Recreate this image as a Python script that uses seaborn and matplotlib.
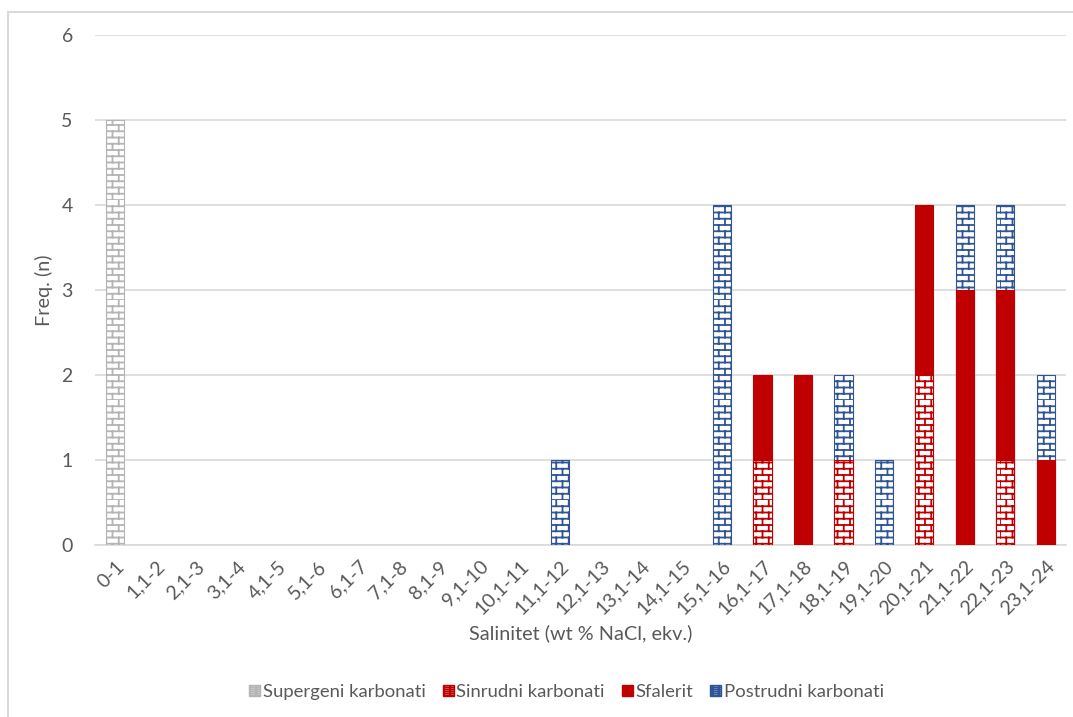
import warnings
import numpy as np
import pandas as pd
import matplotlib.pyplot as plt
import matplotlib.hatch as mhatch
from matplotlib.patches import Patch, Rectangle
from matplotlib.path import Path
import seaborn as sns

warnings.filterwarnings("ignore")

# --- podaci ---
kategorije = ["0-1", "1,1-2", "2,1-3", "3,1-4", "4,1-5", "5,1-6", "6,1-7", "7,1-8",
              "8,1-9", "9,1-10", "10,1-11", "11,1-12", "12,1-13", "13,1-14", "14,1-15",
              "15,1-16", "16,1-17", "17,1-18", "18,1-19", "19,1-20", "20,1-21",
              "21,1-22", "22,1-23", "23,1-24"]
supergeni = [5, 0, 0, 0, 0, 0, 0, 0, 0, 0, 0, 0, 0, 0, 0, 0, 0, 0, 0, 0, 0, 0, 0, 0]
sinrudni = [0, 0, 0, 0, 0, 0, 0, 0, 0, 0, 0, 0, 0, 0, 0, 0, 1, 0, 1, 0, 2, 0, 1, 0]
sfalerit = [0, 0, 0, 0, 0, 0, 0, 0, 0, 0, 0, 0, 0, 0, 0, 0, 1, 2, 0, 0, 2, 3, 2, 1]
postrudni = [0, 0, 0, 0, 0, 0, 0, 0, 0, 0, 0, 1, 0, 0, 0, 4, 0, 0, 1, 1, 0, 1, 1, 1]

serije = ["Supergeni karbonati", "Sinrudni karbonati", "Sfalerit", "Postrudni karbonati"]
vrijednosti = [supergeni, sinrudni, sfalerit, postrudni]
boje = ["#B4B4B4", "#C00000", "#C00000", "#2F5597"]
uzorak = ["b", "b", None, "b"]


# --- "cigla" srafura kao u Excelu ---
class BrickHatch(mhatch.HatchPatternBase):
    def __init__(self, hatch, density):
        n = hatch.count("b")
        self.rows = 16 * n if n else 0
        self.per_row = 8
        self.num_vertices = self.rows * 2 * (1 + self.per_row) if n else 0

    def set_vertices_and_codes(self, vertices, codes):
        k = 0
        h = 1.0 / self.rows
        w = 1.0 / self.per_row
        for r in range(self.rows):
            y0 = r * h
            vertices[k] = (0, y0); vertices[k + 1] = (1, y0)
            codes[k] = Path.MOVETO; codes[k + 1] = Path.LINETO
            k += 2
            off = 0.0 if r % 2 == 0 else w / 2
            for i in range(self.per_row):
                x = off + i * w
                vertices[k] = (x, y0); vertices[k + 1] = (x, y0 + h)
                codes[k] = Path.MOVETO; codes[k + 1] = Path.LINETO
                k += 2


mhatch._hatch_types.append(BrickHatch)

sns.set_style("white")
plt.rcParams["font.family"] = ["Lato", "DejaVu Sans"]
plt.rcParams["hatch.linewidth"] = 1.3

fig = plt.figure(figsize=(10.73, 7.17), dpi=100)
ax = fig.add_axes([95 / 1073, 1 - 545 / 717, 971 / 1073, 510 / 717])

# okvir grafikona
fig.patches.append(Rectangle((8 / 1073, -0.1), 1.2, 1 - 12 / 717 + 0.1, transform=fig.transFigure,
                             fill=False, edgecolor="#D9D9D9", linewidth=1.5, zorder=0))

# stupci se crtaju od vrha prema dnu (kumulativno), donji pokrivaju gornje
kum = np.cumsum(np.array(vrijednosti, dtype=float), axis=0)
for i in reversed(range(len(serije))):
    visina = np.where(np.array(vrijednosti[i]) > 0, kum[i], np.nan)
    df = pd.DataFrame({"kat": kategorije, "n": visina})
    if uzorak[i]:
        sns.barplot(data=df, x="kat", y="n", order=kategorije, ax=ax, width=0.45,
                    color="white", edgecolor=boje[i], hatch=uzorak[i], linewidth=0.8,
                    errorbar=None, saturation=1, zorder=3)
    else:
        sns.barplot(data=df, x="kat", y="n", order=kategorije, ax=ax, width=0.45,
                    color=boje[i], edgecolor=boje[i], linewidth=0.8,
                    errorbar=None, saturation=1, zorder=3)

ax.set_ylim(0, 6)
ax.set_xlim(-0.5, len(kategorije) - 0.5)
ax.set_yticks(range(0, 7))
ax.yaxis.grid(True, color="#D9D9D9", linewidth=1.2, zorder=0)
ax.set_axisbelow(True)
for s in ["top", "right", "left"]:
    ax.spines[s].set_visible(False)
ax.spines["bottom"].set_color("#D9D9D9")
ax.spines["bottom"].set_linewidth(1.2)
ax.tick_params(axis="both", length=0, colors="#595959", labelsize=14)
ax.tick_params(axis="y", pad=16)
plt.setp(ax.get_xticklabels(), rotation=45, ha="right", rotation_mode="anchor")
ax.tick_params(axis="x", pad=9)

ax.set_xlabel("Salinitet (wt % NaCl, ekv.)", fontsize=14.3, color="#595959", labelpad=5)
ax.set_ylabel("Freq. (n)", fontsize=14.3, color="#595959", labelpad=6)

rucke = []
for i in range(len(serije)):
    if uzorak[i]:
        rucke.append(Patch(facecolor="white", edgecolor=boje[i], hatch="bbb", label=serije[i]))
    else:
        rucke.append(Patch(facecolor=boje[i], edgecolor=boje[i], label=serije[i]))
leg = fig.legend(handles=rucke, loc="center", bbox_to_anchor=(0.528, 1 - 692 / 717), ncol=4,
                 frameon=False, fontsize=13.3, handlelength=0.6, handleheight=0.6,
                 handletextpad=0.15, columnspacing=0.9)
for t in leg.get_texts():
    t.set_color("#595959")

fig.savefig("out.png", dpi=100)
